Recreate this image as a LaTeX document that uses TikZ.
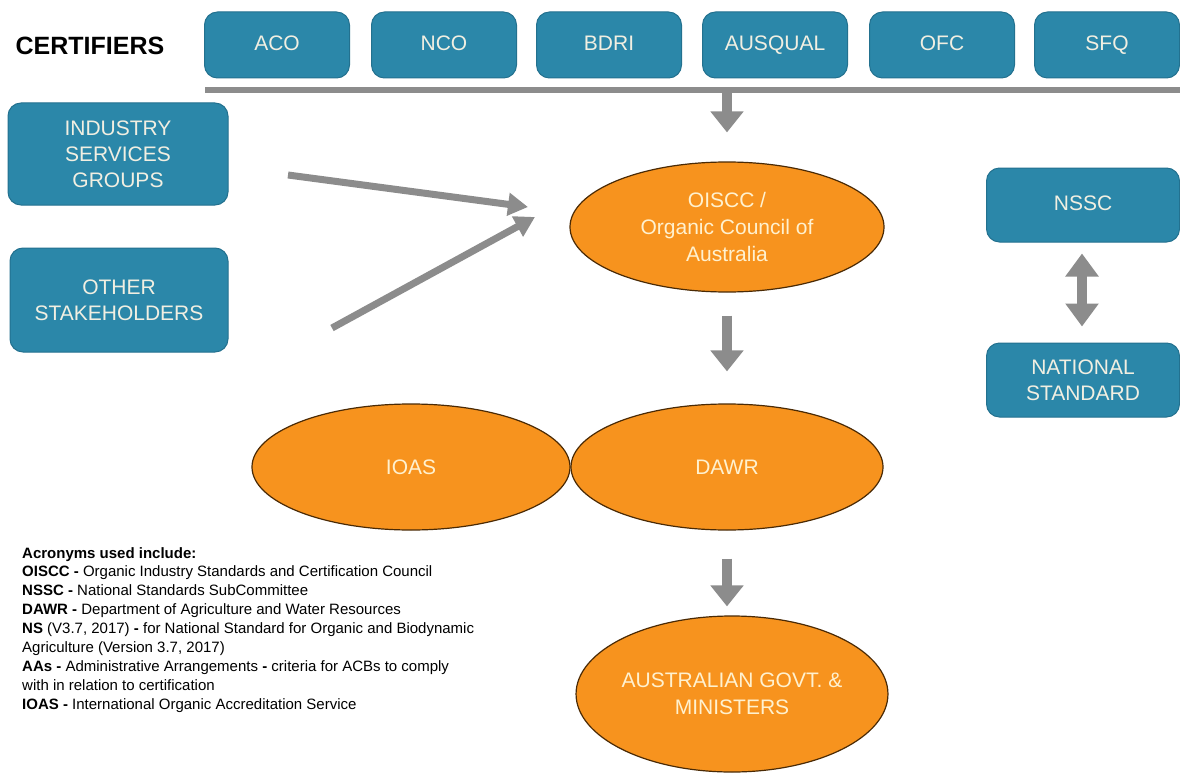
\documentclass[tikz,border=0pt]{standalone}
\usepackage{fontspec}
\setmainfont{Liberation Sans}
\usetikzlibrary{arrows.meta,shapes.geometric,calc}
\definecolor{boxteal}{HTML}{2B87A9}
\definecolor{boxedge}{HTML}{23718F}
\definecolor{orgfill}{HTML}{F7931E}
\definecolor{orgedge}{HTML}{4A2A05}
\definecolor{arrgray}{HTML}{8C8C8C}
\definecolor{boxtext}{HTML}{F1EFE2}
\definecolor{elltext}{HTML}{FFF1CF}
\tikzset{
  tealbox/.style={draw=boxedge, line width=1pt, fill=boxteal, rounded corners=13pt,
    text=boxtext, align=center, inner sep=0pt,
    font=\fontsize{21}{26}\selectfont},
  oneline/.style={text height=15pt, text depth=4pt},
  orgell/.style={ellipse, draw=orgedge, line width=1.2pt, fill=orgfill, text=elltext,
    align=center, inner sep=0pt, font=\fontsize{21}{27}\selectfont},
  fatarrow/.style={draw=arrgray, line width=10pt,
    -{Triangle[width=32pt,length=21pt]}},
  slimarrow/.style={draw=arrgray, line width=7pt,
    -{Triangle[width=22pt,length=20pt]}},
  dblarrow/.style={draw=arrgray, line width=10pt,
    {Triangle[width=32pt,length=23pt]}-{Triangle[width=32pt,length=23pt]}},
  legend/.style={anchor=north west, align=left, inner sep=0pt, text=black,
    font=\fontsize{15}{18.9}\selectfont}
}
\begin{document}
\begin{tikzpicture}[x=1pt,y=-1pt]
\useasboundingbox (0,0) rectangle (1180,773);
\fill[white] (0,0) rectangle (1180,773);

% certifiers
\node[anchor=center, font=\fontsize{25}{28}\selectfont\bfseries, inner sep=0pt] (cert) at (90,46) {CERTIFIERS};
\foreach \n/\t/\x in {aco/ACO/277, nco/NCO/444, bdri/BDRI/609, ausq/AUSQUAL/775, ofc/OFC/942, sfq/SFQ/1107}{
  \node[tealbox, oneline, minimum width=145pt, minimum height=66pt] (\n) at (\x,45) {\t};
}
\coordinate (barL) at (205,90);
\coordinate (barR) at (1180,90);
\coordinate (barM) at (727,90);
\draw[arrgray, line width=6pt] (barL) -- (barR);

% left boxes
\node[tealbox, minimum width=220pt, minimum height=102pt] (isg) at (118,154) {INDUSTRY\\SERVICES\\GROUPS};
\node[tealbox, minimum width=218pt, minimum height=104pt] (oth) at (119,300) {OTHER\\STAKEHOLDERS};

% ellipses
\node[orgell, minimum width=314pt, minimum height=130pt] (oiscc) at (727,227) {OISCC /\\Organic Council of\\Australia};
\node[orgell, minimum width=318pt, minimum height=126pt] (ioas) at (411,467) {IOAS};
\node[orgell, minimum width=312pt, minimum height=126pt] (dawr) at (727,467) {DAWR};
\node[orgell, minimum width=306pt, minimum height=156pt] (govt) at (732,694) {AUSTRALIAN GOVT. \&\\MINISTERS};

% right boxes
\node[tealbox, oneline, minimum width=193pt, minimum height=74pt] (nssc) at (1083,205) {NSSC};
\node[tealbox, minimum width=193pt, minimum height=74pt] (natstd) at (1083,380) {NATIONAL\\STANDARD};

% arrows
\draw[fatarrow] ($(barM)+(0,3)$) -- ($(oiscc.north)+(0,-29)$);
\coordinate (isgA) at (288,175);
\coordinate (isgB) at (528,207);
\coordinate (othA) at (332,328);
\coordinate (othB) at (535,217);
\draw[slimarrow] (isgA) -- (isgB);
\draw[slimarrow] (othA) -- (othB);
\draw[fatarrow] ($(oiscc.south)+(0,23)$) -- ($(dawr.north)+(0,-32)$);
\draw[fatarrow] ($(dawr.south)+(0,28)$) -- ($(govt.north)+(-5,-9)$);
\draw[dblarrow] ($(nssc.south)+(-1,11)$) -- ($(natstd.north)+(-1,-16)$);

% legend
\node[legend] (leg) at (22,547) {\textbf{Acronyms used include:}\\
\textbf{OISCC -} Organic Industry Standards and Certification Council\\
\textbf{NSSC -} National Standards SubCommittee\\
\textbf{DAWR -} Department of Agriculture and Water Resources\\
\textbf{NS} (V3.7, 2017) \textbf{-} for National Standard for Organic and Biodynamic\\
Agriculture (Version 3.7, 2017)\\
\textbf{AAs -} Administrative Arrangements \textbf{-} criteria for ACBs to comply\\
with in relation to certification\\
\textbf{IOAS -} International Organic Accreditation Service};
\end{tikzpicture}
\end{document}
